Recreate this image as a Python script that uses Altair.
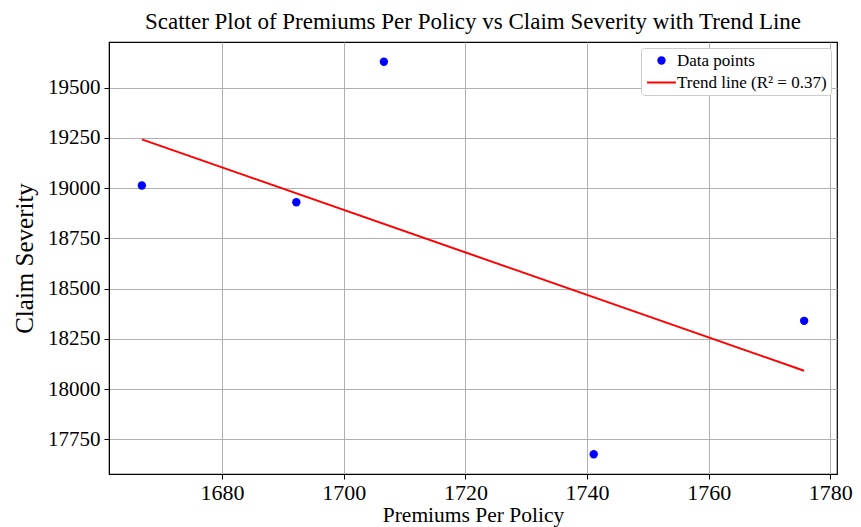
import altair as alt
import pandas as pd

premiums = [1666.8, 1692.2, 1706.6, 1741.1, 1775.7]
severity = [19013, 18930, 19629, 17676, 18340]
series_labels = ["Data points", "Trend line (R\u00b2 = 0.37)"]
x_ticks = [1680, 1700, 1720, 1740, 1760, 1780]
y_ticks = [17750, 18000, 18250, 18500, 18750, 19000, 19250, 19500]

df = pd.DataFrame({"x": premiums, "y": severity, "series": series_labels[0]})

FONT = "Liberation Serif"

LINE_SHAPE = "M-3.45,-0.24L3.45,-0.24L3.45,0.24L-3.45,0.24Z"
color_scale = alt.Scale(domain=series_labels, range=["#0000ff", "#ff0000"])
shape_scale = alt.Scale(domain=series_labels, range=["circle", LINE_SHAPE])

x_enc = alt.X("x:Q", title="Premiums Per Policy",
              scale=alt.Scale(domain=[1661.4, 1781.1], nice=False, zero=False),
              axis=alt.Axis(values=x_ticks, format="d"))
y_enc = alt.Y("y:Q", title="Claim Severity",
              scale=alt.Scale(domain=[17578, 19727], nice=False, zero=False),
              axis=alt.Axis(values=y_ticks, format="d"))

legend = alt.Legend(
    title=None, orient="top-right", offset=6,
    labelFont=FONT, labelFontSize=17, labelColor="black",
    strokeColor="#cccccc", fillColor="white", cornerRadius=3,
    padding=4, rowPadding=4, symbolSize=70, symbolOpacity=1,
    symbolStrokeWidth=0, labelOffset=7, symbolOffset=8,
)

points = alt.Chart(df).mark_point(filled=True, size=70, opacity=1).encode(
    x=x_enc, y=y_enc,
    color=alt.Color("series:N", scale=color_scale, legend=legend),
    shape=alt.Shape("series:N", scale=shape_scale, legend=legend),
)

trend = alt.Chart(df).transform_regression("x", "y").transform_calculate(
    series="'" + series_labels[1] + "'"
).mark_line(strokeWidth=2).encode(
    x=x_enc, y=y_enc,
    color=alt.Color("series:N", scale=color_scale, legend=legend),
)

chart = alt.layer(points, trend).properties(
    width=728, height=432,
    title=alt.TitleParams("Scatter Plot of Premiums Per Policy vs Claim Severity with Trend Line",
                          font=FONT, fontSize=23, fontWeight="normal", color="black", offset=8),
    autosize=alt.AutoSizeParams(type="none"),
    padding={"left": 101, "top": 34, "right": 16, "bottom": 53},
).configure_view(
    stroke="black", strokeWidth=1.2
).configure_axis(
    labelFont=FONT, titleFont=FONT,
    labelColor="black", titleColor="black", titleFontWeight="normal",
    domainColor="black", tickColor="black", tickSize=5,
    gridColor="#b0b0b0", gridWidth=1, labelPadding=4,
).configure_axisX(
    labelFontSize=22, titleFontSize=21.5, titlePadding=1, labelPadding=3
).configure_axisY(
    labelFontSize=21, titleFontSize=25, titlePadding=10
)

chart.save("out.html", embed_options={"renderer": "svg", "actions": False})
